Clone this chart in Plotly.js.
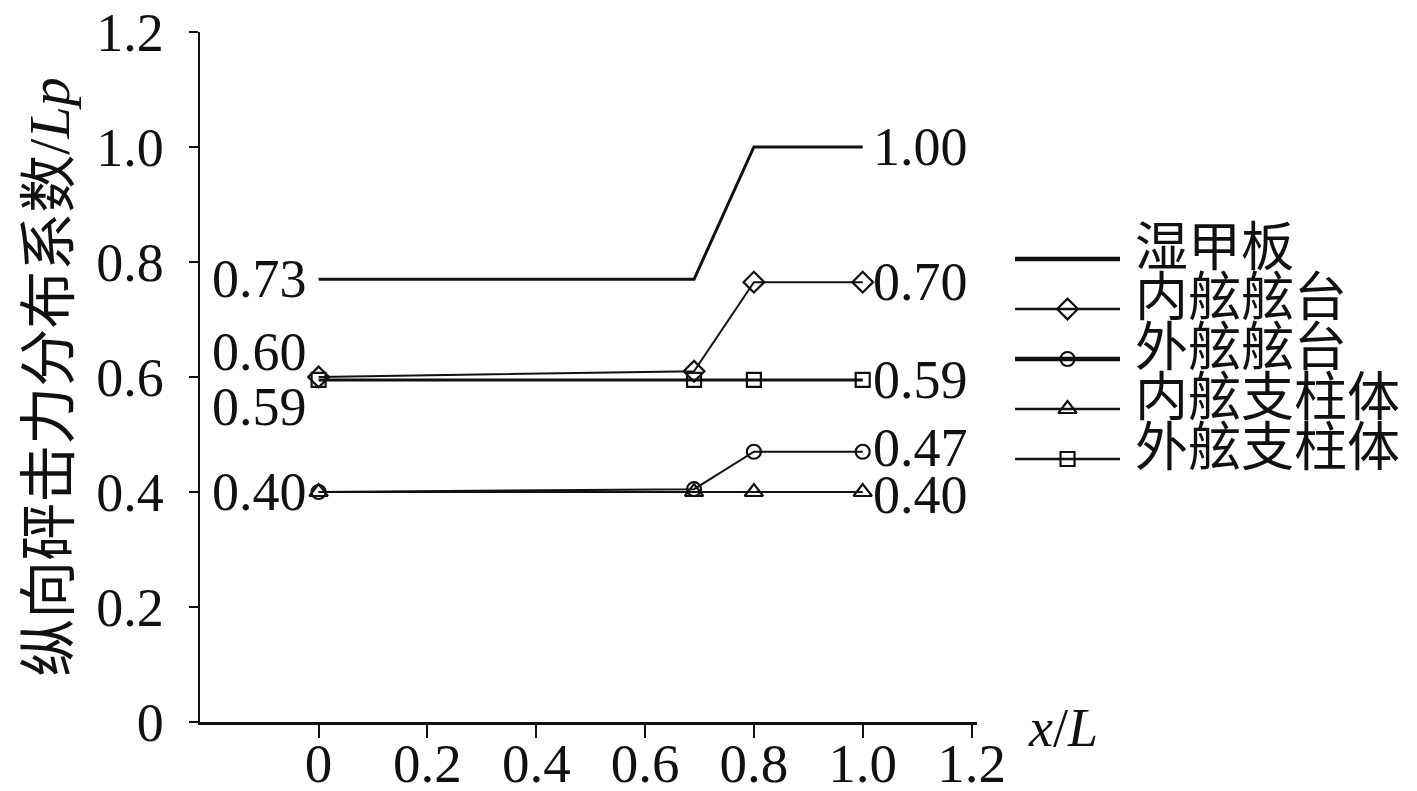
<!DOCTYPE html>
<html>
<head>
<meta charset="utf-8">
<script src="https://cdn.plot.ly/plotly-3.0.1.min.js"></script>
<style>
  html, body { margin: 0; padding: 0; background: #fff; }
  #plot { width: 1417px; height: 791px; }
</style>
</head>
<body>
<div id="plot"></div>
<script>
"use strict";

// ── Data ──
const xPos = [0, 0.69, 0.8, 1.0];              // x/L stations
const seriesNames = ["湿甲板", "内舷舷台", "外舷舷台", "内舷支柱体", "外舷支柱体"];
const wetDeck      = [0.77, 0.77, 1.0, 1.0];
const innerPlat    = [0.60, 0.61, 0.765, 0.765];
const outerPlat    = [0.40, 0.405, 0.47, 0.47];
const innerStrut   = [0.40, 0.40, 0.40, 0.40];
const outerStrut   = [0.595, 0.595, 0.595, 0.595];
const seriesValues = [wetDeck, innerPlat, outerPlat, innerStrut, outerStrut];

// value labels: text + which series they belong to
const leftLabels   = ["0.73", "0.60", "0.59", "0.40"];
const leftSeries   = [0, 1, 4, 3];
const rightLabels  = ["1.00", "0.70", "0.59", "0.47", "0.40"];
const rightSeries  = [0, 1, 4, 2, 3];

const yTicks = [0, 0.2, 0.4, 0.6, 0.8, 1.0, 1.2];
const yTickText = ["0", "0.2", "0.4", "0.6", "0.8", "1.0", "1.2"];
const xTicks = [0, 0.2, 0.4, 0.6, 0.8, 1.0, 1.2];
const xTickText = ["0", "0.2", "0.4", "0.6", "0.8", "1.0", "1.2"];

// ── Styles ──
const FONT = "'Liberation Serif', 'Times New Roman', 'Noto Sans CJK SC', serif";
const INK = "#111111";
const symbols   = [null, "diamond-open", "circle-open", "triangle-up-open", "square-open"];
const symSizes  = [0, 16, 14, 16, 14];
const lineW     = [3, 2, 2, 2, 3];
const legLineW  = [4.5, 2.5, 4.5, 2.5, 2.5];
const leftShift = [0, 25, -27, 0];
const rightShift = [0, 0, 0, 4, -3];

const traces = [];
seriesNames.forEach((name, i) => {
    const t = {
        type: "scatter",
        x: xPos, y: seriesValues[i],
        name: name,
        showlegend: false,
        mode: symbols[i] ? "lines+markers" : "lines",
        line: { color: INK, width: lineW[i] },
        xaxis: "x", yaxis: "y",
        cliponaxis: false,
    };
    if (symbols[i]) {
        t.marker = { symbol: symbols[i], size: symSizes[i], color: INK,
                     line: { color: INK, width: 2.2 } };
    }
    traces.push(t);
});

// ── Custom legend: long line keys on a hidden helper axis ──
seriesNames.forEach((name, i) => {
    traces.push({
        type: "scatter",
        x: [0, 1], y: [-i, -i],
        showlegend: false, hoverinfo: "skip",
        mode: "lines",
        line: { color: INK, width: legLineW[i] },
        xaxis: "x2", yaxis: "y2",
        cliponaxis: false,
    });
    if (symbols[i]) {
        traces.push({
            type: "scatter",
            x: [0.5], y: [-i],
            showlegend: false, hoverinfo: "skip",
            mode: "markers",
            marker: { symbol: symbols[i], size: symSizes[i], color: INK,
                      line: { color: INK, width: 2.2 } },
            xaxis: "x2", yaxis: "y2",
            cliponaxis: false,
        });
    }
});

const annotations = [];
leftLabels.forEach((txt, k) => {
    const s = leftSeries[k];
    annotations.push({
        text: txt, x: xPos[0], y: seriesValues[s][0], xref: "x", yref: "y",
        xanchor: "right", yanchor: "middle", xshift: -10, yshift: leftShift[k],
        showarrow: false, font: { family: FONT, size: 54, color: INK },
    });
});
rightLabels.forEach((txt, k) => {
    const s = rightSeries[k];
    const last = xPos.length - 1;
    annotations.push({
        text: txt, x: xPos[last], y: seriesValues[s][last], xref: "x", yref: "y",
        xanchor: "left", yanchor: "middle", xshift: 8, yshift: rightShift[k],
        showarrow: false, font: { family: FONT, size: 54, color: INK },
    });
});
seriesNames.forEach((name, i) => {
    annotations.push({
        text: name, x: 0.7795, y: -i, xref: "paper", yref: "y2",
        xanchor: "left", yanchor: "middle", yshift: 11,
        showarrow: false, font: { family: FONT, size: 53, color: INK },
    });
});
annotations.push({
    text: "<i>x</i>/<i>L</i>", x: 0.69, y: -0.008, xref: "paper", yref: "paper",
    xanchor: "left", yanchor: "middle",
    showarrow: false, font: { family: FONT, size: 54, color: INK },
});

const layout = {
    width: 1417, height: 791,
    margin: { l: 200, r: 20, t: 32, b: 69 },
    paper_bgcolor: "#fff", plot_bgcolor: "#fff",
    showlegend: false,
    font: { family: FONT, size: 54, color: INK },
    xaxis: {
        domain: [0, 0.6491], anchor: "y",
        range: [-0.218, 1.21],
        tickvals: xTicks, ticktext: xTickText,
        ticks: "outside", ticklen: 13, tickwidth: 2, tickcolor: INK,
        ticklabelstandoff: -22,
        showline: true, linecolor: INK, linewidth: 2.5,
        showgrid: false, zeroline: false,
        tickfont: { family: FONT, size: 55, color: INK },
    },
    yaxis: {
        domain: [0, 1], anchor: "x",
        range: [0, 1.2],
        tickvals: yTicks, ticktext: yTickText,
        ticks: "outside", ticklen: 9, tickwidth: 2, tickcolor: INK,
        ticklabelstandoff: 14,
        showline: true, linecolor: INK, linewidth: 2.5,
        showgrid: false, zeroline: false,
        tickfont: { family: FONT, size: 54, color: INK },
        title: { text: "纵向砰击力分布系数/<i>Lp</i>", standoff: 8,
                 font: { family: FONT, size: 58, color: INK } },
    },
    xaxis2: {
        domain: [0.6809, 0.7686], anchor: "y2", range: [0, 1],
        visible: false, fixedrange: true,
    },
    yaxis2: {
        domain: [0, 1], anchor: "x2", range: [-9.26, 4.54],
        visible: false, fixedrange: true,
    },
    annotations: annotations,
};

Plotly.newPlot("plot", traces, layout, { displayModeBar: false, staticPlot: true });
</script>
</body>
</html>
